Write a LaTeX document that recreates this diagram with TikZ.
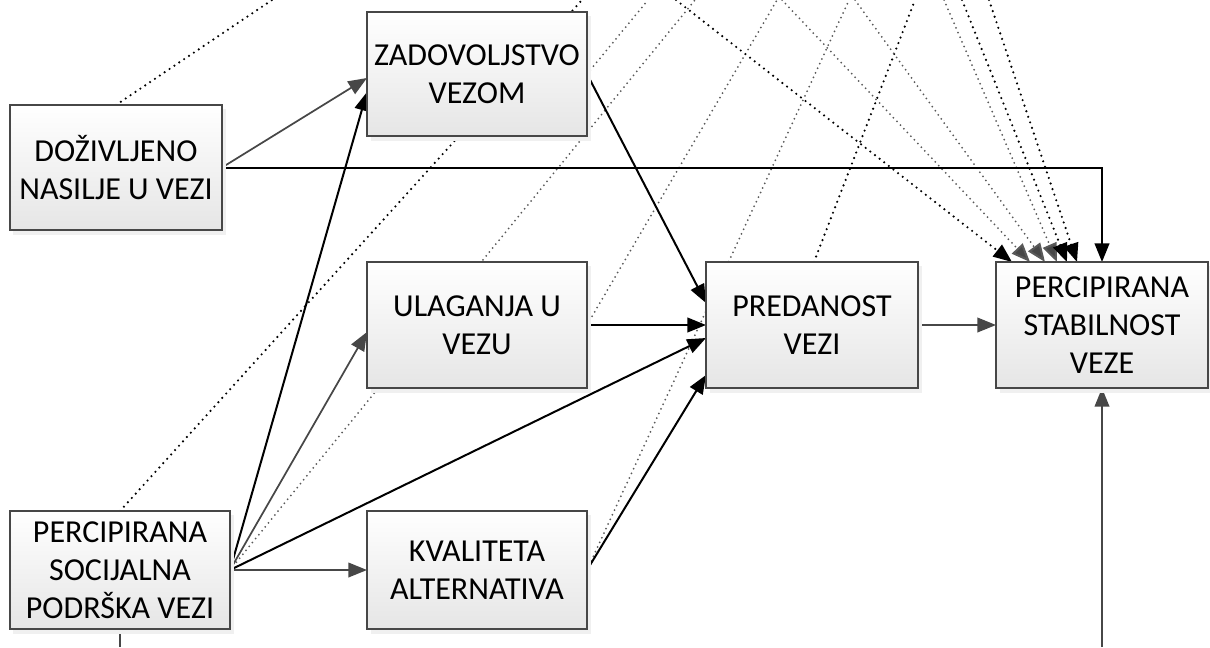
\documentclass[tikz,border=0pt]{standalone}
\usepackage{fontspec}
\setmainfont{Carlito}
\usetikzlibrary{arrows.meta,calc,backgrounds}
\begin{document}
\begin{tikzpicture}[x=0.75pt,y=-0.75pt,
  box/.style={draw=black!72, line width=1.4pt, top color=white, bottom color=black!10,
    align=center, inner sep=0pt, outer sep=0pt, font=\fontsize{24}{28.5}\selectfont},
  shade/.style={fill=black!6, draw=none},
  solidarr/.style={draw=black, line width=1.5pt, -{Triangle[length=14pt,width=11pt]}},
  grayarr/.style={draw=black!72, line width=1.3pt, -{Triangle[length=14pt,width=11pt,fill=black!72]}},
  grayline/.style={draw=black!72, line width=1.3pt},
  bdot/.style={draw=black, line width=1.8pt, line cap=round, dash pattern=on 0pt off 4.4pt},
  gdot/.style={draw=black!65, line width=1.5pt, line cap=round, dash pattern=on 0pt off 3.8pt},
  bdotarr/.style={bdot, -{Triangle[length=14pt,width=11pt,fill=black]}},
  gdotarr/.style={gdot, -{Triangle[length=14pt,width=11pt,fill=black!72]}}
]
\useasboundingbox (0,0) rectangle (1210,647);

% shadows
\fill[shade] (13,109) rectangle (226,235);
\fill[shade] (371,16) rectangle (591,141);
\fill[shade] (371,266) rectangle (591,393);
\fill[shade] (371,515) rectangle (591,634);
\fill[shade] (13,515) rectangle (234,634);
\fill[shade] (710,266) rectangle (922,393);
\fill[shade] (1000,266) rectangle (1212,393);

% boxes
\node[box, minimum width=212*0.75pt, minimum height=125*0.75pt] (doz) at (116,167.5) {DOŽIVLJENO\\NASILJE U VEZI};
\node[box, minimum width=220*0.75pt, minimum height=124*0.75pt] (zad) at (477,74) {ZADOVOLJSTVO\\VEZOM};
\node[box, minimum width=220*0.75pt, minimum height=126*0.75pt] (ula) at (477,325) {ULAGANJA U\\VEZU};
\node[box, minimum width=220*0.75pt, minimum height=118*0.75pt] (kva) at (477,570) {KVALITETA\\ALTERNATIVA};
\node[box, minimum width=220*0.75pt, minimum height=118*0.75pt] (soc) at (120,570) {PERCIPIRANA\\SOCIJALNA\\PODRŠKA VEZI};
\node[box, minimum width=212*0.75pt, minimum height=126*0.75pt] (pre) at (812,325) {PREDANOST\\VEZI};
\node[box, minimum width=212*0.75pt, minimum height=126*0.75pt] (sta) at (1102,325) {PERCIPIRANA\\STABILNOST\\VEZE};

% free ends
\coordinate (tA) at (272,0);
\coordinate (tB) at (582,0);
\coordinate (tC) at (695,0);
\coordinate (tE) at (648,0);
\coordinate (tF) at (676,0);
\coordinate (tG) at (777,0);
\coordinate (tH) at (849,0);
\coordinate (tJ) at (915,0);
\coordinate (t2) at (782,0);
\coordinate (t3) at (855,0);
\coordinate (t4) at (944,0);
\coordinate (t5) at (962,0);
\coordinate (t6) at (989,0);
\coordinate (bS) at (1102,647);
\coordinate (bP) at (120,647);

\begin{scope}[on background layer]
% dotted lines
\draw[bdot] (doz.north) -- (tA);
\draw[bdot] (soc.north) -- (tB);
\draw[gdot] (soc.east) -- (tC);
\draw[gdot] (zad.east) -- (tE);
\draw[gdot] (ula.east) -- (tG);
\draw[gdot] (kva.east) -- (tH);
\draw[bdot] ($(pre.north)+(2,0)$) -- (tJ);
\draw[bdotarr] (tF) -- ($(sta.north west)+(16,0)$);
\draw[gdotarr] (t2) -- ($(sta.north west)+(34,0)$);
\draw[gdotarr] (t3) -- ($(sta.north west)+(49,0)$);
\draw[gdotarr] (t4) -- ($(sta.north west)+(61,0)$);
\draw[bdotarr] (t5) -- ($(sta.north west)+(71,0)$);
\draw[bdotarr] (t6) -- ($(sta.north west)+(81,0)$);

% solid connectors
\draw[grayarr] (doz.east) -- ($(zad.west)+(0,4)$);
\draw[solidarr] (doz.east) -| (sta.north);
\draw[solidarr] (soc.east) -- ($(zad.west)+(0,18)$);
\draw[grayarr] (soc.east) -- ($(ula.west)+(0,7)$);
\draw[solidarr] (soc.east) -- ($(pre.west)+(0,13)$);
\draw[grayarr] (soc.east) -- (kva.west);
\draw[solidarr] (zad.east) -- ($(pre.west)+(0,-22)$);
\draw[solidarr] (ula.east) -- (pre.west);
\draw[solidarr] (kva.east) -- ($(pre.west)+(0,50)$);
\draw[grayarr] (pre.east) -- (sta.west);
\draw[grayarr] (bS) -- (sta.south);
\draw[grayline] (soc.south) -- (bP);
\end{scope}
\end{tikzpicture}
\end{document}
